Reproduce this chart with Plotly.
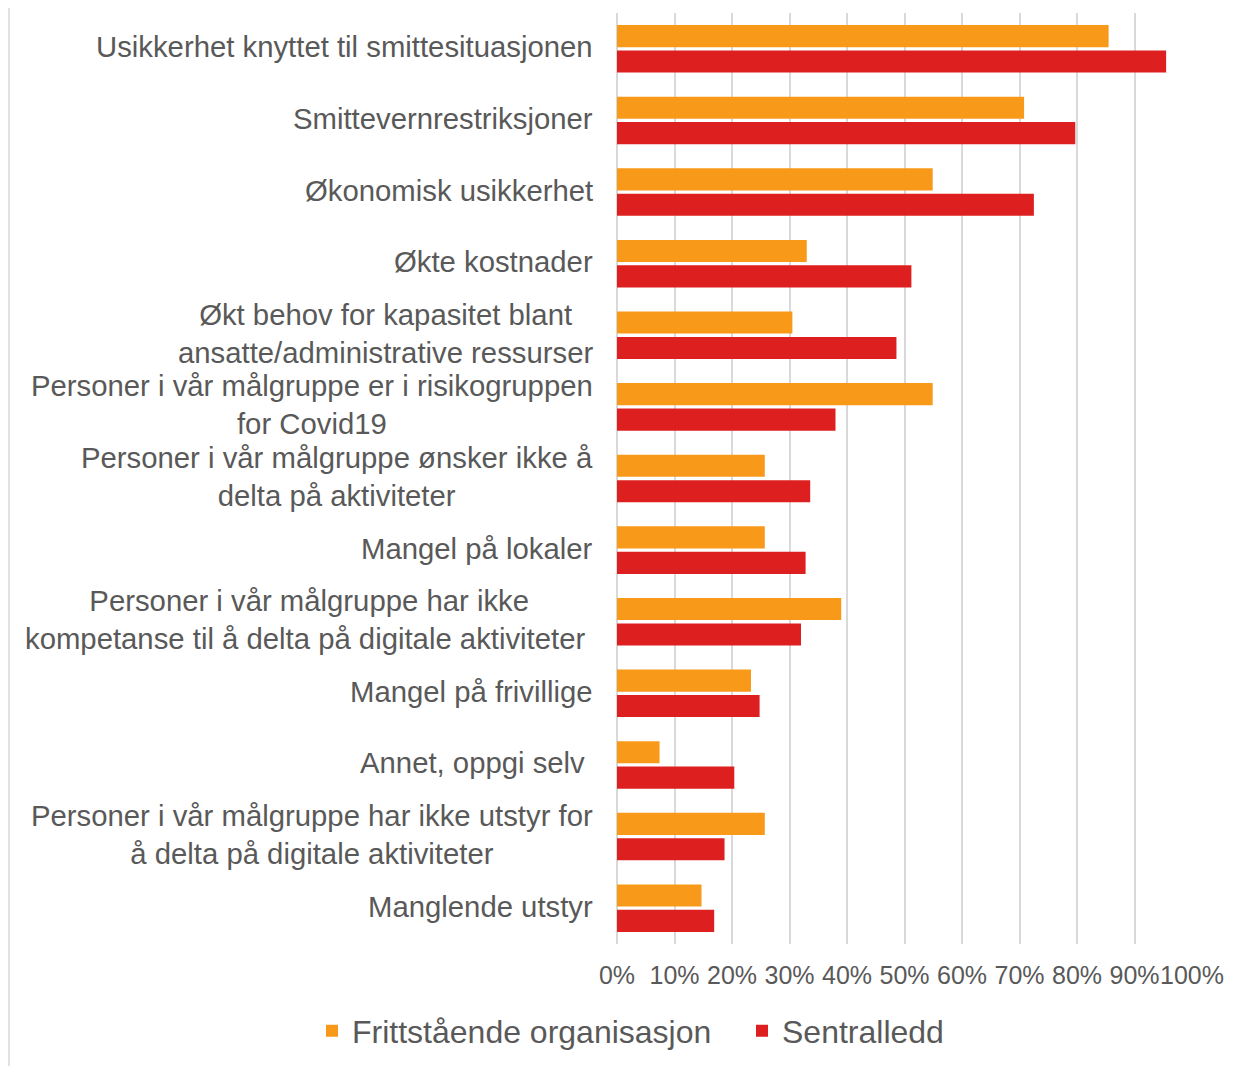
import plotly.graph_objects as go

categories = [
    "Usikkerhet knyttet til smittesituasjonen",
    "Smittevernrestriksjoner",
    "Økonomisk usikkerhet",
    "Økte kostnader",
    "Økt behov for kapasitet blant<br>ansatte/administrative ressurser",
    "Personer i vår målgruppe er i risikogruppen<br>for Covid19",
    "Personer i vår målgruppe ønsker ikke å<br>delta på aktiviteter",
    "Mangel på lokaler",
    "Personer i vår målgruppe har ikke<br>kompetanse til å delta på digitale aktiviteter\u00a0",
    "Mangel på frivillige",
    "Annet, oppgi selv\u00a0",
    "Personer i vår målgruppe har ikke utstyr for<br>å delta på digitale aktiviteter",
    "Manglende utstyr",
]
frittstaende = [85.5, 70.8, 54.9, 33.0, 30.5, 54.9, 25.7, 25.7, 39.0, 23.3, 7.4, 25.7, 14.7]
sentralledd = [95.5, 79.7, 72.5, 51.2, 48.6, 38.0, 33.6, 32.8, 32.0, 24.8, 20.4, 18.7, 16.9]
series_names = ["Frittstående organisasjon", "Sentralledd"]
x_ticks = [0, 10, 20, 30, 40, 50, 60, 70, 80, 90, 100]

# the page adds an 8px body margin, so the figure is drawn 8px smaller/shifted
OFF = 8
W, H = 1242 - OFF, 1066 - OFF
ML, MR, MT, MB = 617 - OFF, 50, 13 - OFF, 122
TXT = "#595959"
FONT = "Liberation Sans, Arial, sans-serif"
plot_w = W - ML - MR
plot_h = H - MT - MB

fig = go.Figure()
fig.add_trace(go.Bar(y=categories, x=frittstaende, orientation="h", name=series_names[0],
                     marker=dict(color="#F8991A", line=dict(width=0))))
fig.add_trace(go.Bar(y=categories, x=sentralledd, orientation="h", name=series_names[1],
                     marker=dict(color="#DE1F1F", line=dict(width=0))))

for c in categories:
    fig.add_annotation(xref="paper", yref="y", x=0, y=c, text=c, showarrow=False,
                       xanchor="right", yanchor="middle", align="center", xshift=-22,
                       yshift=2, font=dict(family=FONT, size=29.3, color=TXT))

# chart border line on the left
fig.add_shape(type="line", xref="paper", yref="paper",
              x0=(1 - ML) / plot_w, x1=(1 - ML) / plot_w,
              y0=-MB / plot_h, y1=1 + MT / plot_h,
              line=dict(color="#D9D9D9", width=1.5))

fig.update_layout(
    width=W, height=H,
    margin=dict(l=ML, r=MR, t=MT, b=MB, autoexpand=False),
    paper_bgcolor="white", plot_bgcolor="white",
    barmode="group", bargap=0.29, bargroupgap=0.13,
    font=dict(family=FONT, color=TXT),
    showlegend=True,
    legend=dict(orientation="h", xref="paper", yref="paper",
                x=(312 - OFF - ML) / plot_w, xanchor="left",
                y=-(1031 - OFF - (H - MB)) / plot_h, yanchor="middle",
                font=dict(family=FONT, size=32, color=TXT),
                entrywidth=385, entrywidthmode="pixels", itemwidth=30,
                bgcolor="rgba(0,0,0,0)"),
    xaxis=dict(range=[0, 100], tickvals=x_ticks, ticktext=[f"{v}%" for v in x_ticks],
               tickangle=0, automargin=False,
               showgrid=True, gridcolor="#D9D9D9", gridwidth=2,
               zeroline=True, zerolinecolor="#D9D9D9", zerolinewidth=2,
               showline=False, ticks="", ticklabelstandoff=14,
               tickfont=dict(family=FONT, size=25, color=TXT)),
    yaxis=dict(autorange="reversed", showticklabels=False, showgrid=False,
               zeroline=False, showline=False, ticks="", automargin=False),
)

fig.write_html("out.html")
